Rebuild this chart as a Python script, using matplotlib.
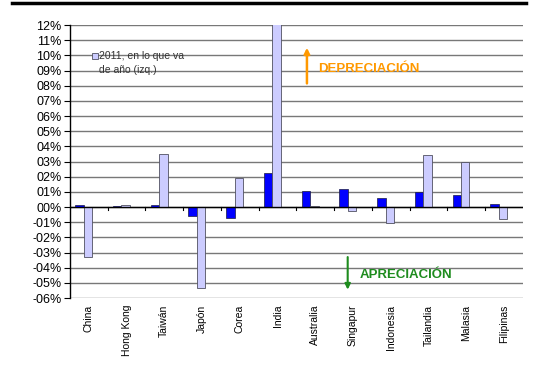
import matplotlib
matplotlib.use("Agg")
import matplotlib.pyplot as plt
from matplotlib.lines import Line2D
from matplotlib.patches import Rectangle
import numpy as np

plt.rcParams['font.family'] = ['Liberation Sans', 'DejaVu Sans']

countries = ["China", "Hong Kong", "Taiwán", "Japón", "Corea", "India",
             "Australia", "Singapur", "Indonesia", "Tailandia", "Malasia", "Filipinas"]
# Variación del tipo de cambio frente al USD (%)
recent = [0.15, 0.05, 0.1, -0.62, -0.7, 2.24, 1.07, 1.16, 0.61, 0.96, 0.81, 0.22]
ytd_2011 = [-3.3, 0.1, 3.5, -5.33, 1.88, 12.5, 0.05, -0.24, -1.05, 3.4, 2.98, -0.79]
legend_lines = ["2011, en lo que va", "de año (izq.)"]
yticks = list(range(-6, 13))

fig = plt.figure(figsize=(5.34, 3.69), dpi=100)
ax = fig.add_axes([0.131, 0.1924, 0.848, 0.7398])

x = np.arange(len(countries))
w = 0.225
ax.bar(x - 0.25, recent, width=w, color="#0000FF", edgecolor="#1a1a40",
       linewidth=0.5, zorder=3)
ax.bar(x - 0.25 + w, ytd_2011, width=w, color="#CCCCFF", edgecolor="#505060",
       linewidth=0.6, zorder=3)

ax.set_xlim(-0.5, len(countries) - 0.5)
ax.set_ylim(-6, 12)
ax.set_yticks(yticks)
ax.set_yticklabels([f"{v:03d}%" if v < 0 else f"{v:02d}%" for v in yticks],
                   fontsize=9)
ax.yaxis.grid(True, color="#787878", linewidth=1.0, zorder=0)
ax.set_axisbelow(True)

for s in ["top", "right", "bottom"]:
    ax.spines[s].set_visible(False)
ax.spines["left"].set_color("black")
ax.spines["left"].set_linewidth(1.0)
ax.tick_params(axis="y", length=4, width=0.8, color="black", pad=2)

# zero line with category separators
ax.axhline(0, color="black", linewidth=1.0, zorder=4)
for b in np.arange(0.5, len(countries) - 0.5, 1.0):
    ax.plot([b, b], [0, -0.2], color="black", linewidth=0.8, zorder=4,
            clip_on=False)

ax.set_xticks(x)
ax.set_xticklabels(countries, rotation=90, fontsize=7.5, va="top")
ax.tick_params(axis="x", length=0, pad=5)

# legend key
ax.add_patch(Rectangle((0.049, 0.874), 0.012, 0.022, transform=ax.transAxes,
                       facecolor="#CCCCFF", edgecolor="#505060", linewidth=0.6,
                       clip_on=False, zorder=5))
ax.text(0.065, 0.885, legend_lines[0], transform=ax.transAxes,
        fontsize=7.5, color="#333333", va="center", ha="left", zorder=5)
ax.text(0.065, 0.835, legend_lines[1], transform=ax.transAxes,
        fontsize=7.5, color="#333333", va="center", ha="left", zorder=5)

# direction notes
ax.annotate("", xy=(5.78, 10.5), xytext=(5.78, 8.15),
            arrowprops=dict(arrowstyle="-|>", color="#FF9900", lw=1.8,
                            mutation_scale=8, shrinkA=0, shrinkB=0))
ax.text(6.07, 9.1, "DEPRECIACIÓN", color="#FF9900", fontsize=9.5,
        fontweight="bold", va="center", ha="left")
ax.annotate("", xy=(6.86, -5.45), xytext=(6.86, -3.3),
            arrowprops=dict(arrowstyle="-|>", color="#1E8C1E", lw=1.5,
                            mutation_scale=8, shrinkA=0, shrinkB=0))
ax.text(7.18, -4.46, "APRECIACIÓN", color="#1E8C1E", fontsize=9.5,
        fontweight="bold", va="center", ha="left")

# top rule
fig.add_artist(Line2D([12 / 534, 526 / 534], [1 - 3 / 369, 1 - 3 / 369],
                      color="black", linewidth=2.5, transform=fig.transFigure))

fig.savefig("out.png", dpi=100)
